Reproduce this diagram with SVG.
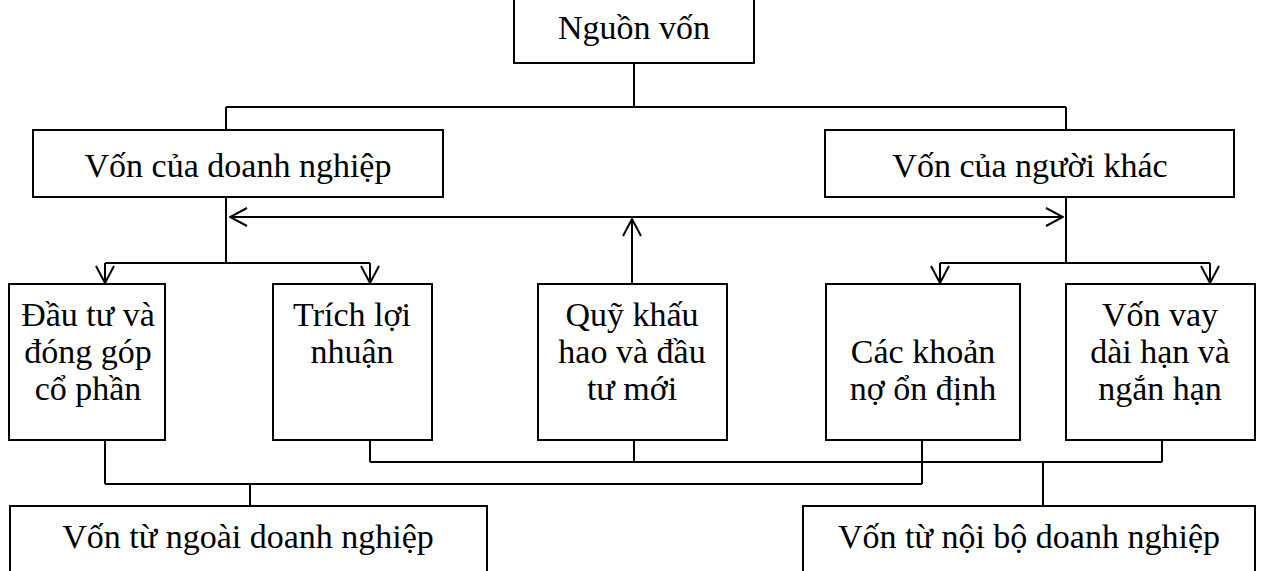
<svg xmlns="http://www.w3.org/2000/svg" width="1262" height="571" viewBox="0 0 1262 571">
<style>
.box{fill:#fff;stroke:#000;stroke-width:2}
.t{font-family:"Liberation Serif","Times New Roman",serif;font-size:34px;fill:#000;text-anchor:middle}
.c{fill:none;stroke:#000;stroke-width:2}
</style>
<defs>
<marker id="ah" viewBox="0 0 20 20" refX="19" refY="10" markerWidth="20" markerHeight="20" markerUnits="userSpaceOnUse" orient="auto-start-reverse">
<path d="M2,1 L19,10 L2,19" fill="none" stroke="#000" stroke-width="2"/>
</marker>
</defs>
<rect width="1262" height="571" fill="#fff"/>
<g id="connectors">
<path class="c" d="M634,63 V107 M226,107 H1066 M226,107 V130 M1066,107 V130"/>
<path class="c" d="M226,197 V263 M105,263 H370 M1066,197 V263 M940,263 H1210"/>
<line class="c" x1="105" y1="263" x2="105" y2="283" marker-end="url(#ah)"/>
<line class="c" x1="370" y1="263" x2="370" y2="283" marker-end="url(#ah)"/>
<line class="c" x1="940" y1="263" x2="940" y2="283" marker-end="url(#ah)"/>
<line class="c" x1="1210" y1="263" x2="1210" y2="283" marker-end="url(#ah)"/>
<line class="c" x1="230" y1="217" x2="1063" y2="217" marker-start="url(#ah)" marker-end="url(#ah)"/>
<line class="c" x1="632" y1="284" x2="632" y2="219" marker-end="url(#ah)"/>
<path class="c" d="M370,440 V462 M634,440 V462 M1162,440 V462 M370,462 H1162 M1043,462 V506"/>
<path class="c" d="M105,440 V484 M922,440 V484 M105,484 H922 M250,484 V506"/>
</g>
<g id="n-nguonvon"><rect class="box" x="514" y="-5" width="240" height="68"/><text class="t" x="634" y="39">Nguồn vốn</text></g>
<g id="n-voncuadn"><rect class="box" x="33" y="130" width="410" height="67"/><text class="t" x="238" y="177">Vốn của doanh nghiệp</text></g>
<g id="n-voncuank"><rect class="box" x="825" y="130" width="409" height="67"/><text class="t" x="1030" y="177">Vốn của người khác</text></g>
<g id="n-dautu"><rect class="box" x="9" y="284" width="156" height="156"/><text class="t" x="88" y="326">Đầu tư và</text><text class="t" x="88" y="363">đóng góp</text><text class="t" x="88" y="400">cổ phần</text></g>
<g id="n-trich"><rect class="box" x="273" y="284" width="159" height="156"/><text class="t" x="352" y="326">Trích lợi</text><text class="t" x="352" y="363">nhuận</text></g>
<g id="n-quy"><rect class="box" x="538" y="284" width="189" height="156"/><text class="t" x="632" y="326">Quỹ khấu</text><text class="t" x="632" y="363">hao và đầu</text><text class="t" x="632" y="400">tư mới</text></g>
<g id="n-cackhoan"><rect class="box" x="826" y="284" width="194" height="156"/><text class="t" x="923" y="363">Các khoản</text><text class="t" x="923" y="400">nợ ổn định</text></g>
<g id="n-vonvay"><rect class="box" x="1066" y="284" width="189" height="156"/><text class="t" x="1160" y="326">Vốn vay</text><text class="t" x="1160" y="363">dài hạn và</text><text class="t" x="1160" y="400">ngắn hạn</text></g>
<g id="n-ngoai"><rect class="box" x="10" y="506" width="477" height="80"/><text class="t" x="248" y="548">Vốn từ ngoài doanh nghiệp</text></g>
<g id="n-noibo"><rect class="box" x="803" y="506" width="452" height="80"/><text class="t" x="1029" y="548">Vốn từ nội bộ doanh nghiệp</text></g>
</svg>
